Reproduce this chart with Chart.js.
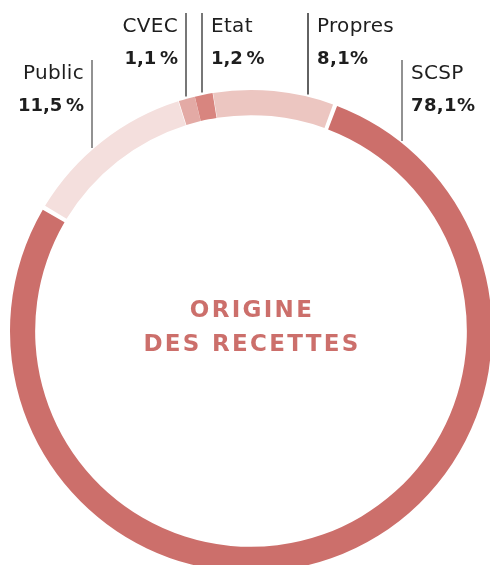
<!DOCTYPE html>
<html>
<head>
<meta charset="utf-8">
<script src="https://cdn.jsdelivr.net/npm/chart.js@4.4.0/dist/chart.umd.min.js"></script>
<style>
  html, body { margin: 0; padding: 0; background: #fff; }
  #wrap { position: relative; width: 490px; height: 565px; overflow: hidden; }
  #chart { position: absolute; left: 0; top: 0; }
</style>
</head>
<body>
<div id="wrap"><canvas id="chart" width="492" height="572"></canvas></div>
<script>
const labels = ['SCSP', 'Public', 'CVEC', 'Etat', 'Propres'];
const shares = [78.1, 11.5, 1.1, 1.2, 8.1];
const pctText = ['78,1%', '11,5\u202f%', '1,1\u202f%', '1,2\u202f%', '8,1%'];
const colors = ['#cc6f6b', '#f4dfdd', '#e3aaa5', '#d8857f', '#ecc6c1'];
const centerLines = ['ORIGINE', 'DES RECETTES'];

// label placement: x of the leader line, which side the text sits, top row or lower row
const labelLayout = [
  { lineX: 402, side: 'right', row: 1, line: '#6e6e6e' },
  { lineX: 92,  side: 'left',  row: 1, line: '#6e6e6e' },
  { lineX: 186, side: 'left',  row: 0, line: '#4a4a4a' },
  { lineX: 202, side: 'right', row: 0, line: '#4a4a4a' },
  { lineX: 308, side: 'right', row: 0, line: '#2e2e2e' },
];

const calloutPlugin = {
  id: 'callouts',
  afterDraw(chart) {
    const ctx = chart.ctx;
    const arc = chart.getDatasetMeta(0).data[0];
    const cx = arc.x, cy = arc.y, r = arc.outerRadius;
    ctx.save();
    labels.forEach((name, i) => {
      const lay = labelLayout[i];
      const base = lay.row === 0 ? 32 : 79;
      const lineTop = base - 19;
      const dx = lay.lineX - cx;
      const ringY = cy - Math.sqrt(r * r - dx * dx);
      ctx.strokeStyle = lay.line;
      ctx.lineWidth = 1.5;
      ctx.beginPath();
      ctx.moveTo(lay.lineX, lineTop);
      ctx.lineTo(lay.lineX, ringY - 4);
      ctx.stroke();

      const tx = lay.side === 'left' ? lay.lineX - 8 : lay.lineX + 9;
      ctx.textAlign = lay.side === 'left' ? 'right' : 'left';
      ctx.textBaseline = 'alphabetic';
      ctx.fillStyle = '#1e1e1e';
      ctx.font = '20px "DejaVu Sans", sans-serif';
      ctx.letterSpacing = '0.3px';
      ctx.fillText(name, tx, base);
      ctx.font = 'bold 18px "DejaVu Sans", sans-serif';
      ctx.letterSpacing = '0.4px';
      ctx.fillText(pctText[i], tx, base + 32);
    });

    ctx.fillStyle = '#cc6f6b';
    ctx.textAlign = 'center';
    ctx.font = 'bold 23px "DejaVu Sans", sans-serif';
    ctx.letterSpacing = '2.3px';
    ctx.fillText(centerLines[0], cx + 1, cy - 14);
    ctx.fillText(centerLines[1], cx + 1, cy + 20);
    ctx.restore();
  }
};

new Chart(document.getElementById('chart'), {
  type: 'doughnut',
  data: {
    labels: labels,
    datasets: [{
      data: shares,
      backgroundColor: colors,
      borderWidth: 0,
      spacing: 3,
      hoverOffset: 0,
    }]
  },
  options: {
    responsive: false,
    animation: false,
    rotation: 20,
    cutout: '89.5%',
    layout: { padding: { left: 10, top: 90, right: 0, bottom: 0 } },
    plugins: { legend: { display: false }, tooltip: { enabled: false } }
  },
  plugins: [calloutPlugin]
});
</script>
</body>
</html>
